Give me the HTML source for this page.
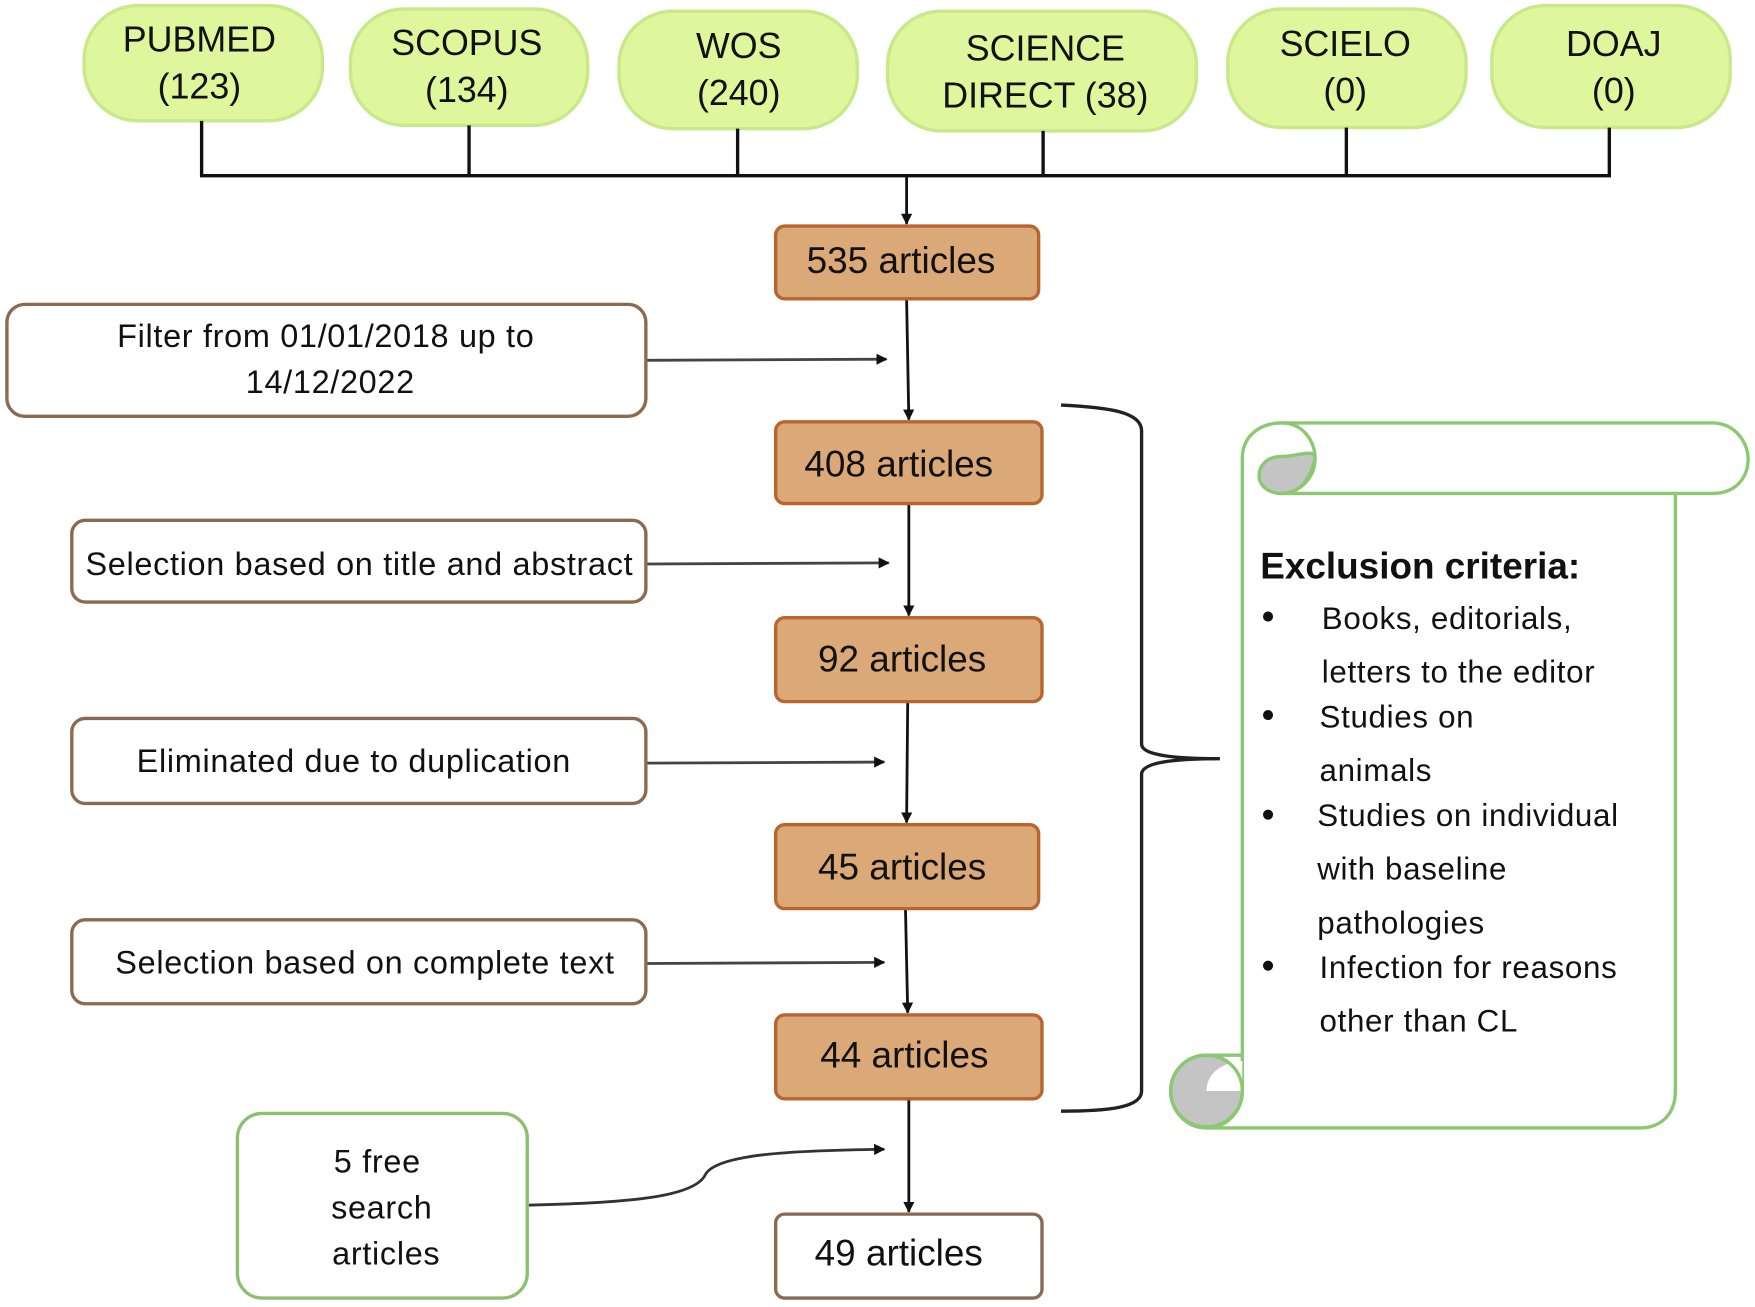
<!DOCTYPE html>
<html><head><meta charset="utf-8"><style>html,body{margin:0;padding:0;background:#fff}svg{display:block}</style></head><body>
<svg width="1755" height="1307" viewBox="0 0 1568 1168" xmlns="http://www.w3.org/2000/svg" font-family="Liberation Sans, sans-serif">
<defs><marker id="a" markerWidth="10" markerHeight="10" refX="9" refY="5" orient="auto" markerUnits="userSpaceOnUse"><path d="M0,0 L10,5 L0,10 z" fill="#111"/></marker></defs>
<g fill="#def79c" stroke="#c8e88a" stroke-width="3">
<rect x="75" y="5" width="213" height="103" rx="48"/>
<rect x="313" y="8" width="212" height="104" rx="48"/>
<rect x="553" y="10" width="213" height="105" rx="48"/>
<rect x="793" y="10" width="276" height="107" rx="48"/>
<rect x="1097" y="8" width="213" height="106" rx="48"/>
<rect x="1333" y="5" width="213" height="109" rx="48"/>
</g>
<g font-size="32" text-anchor="middle" fill="#111">
<text x="178" y="46">PUBMED</text><text x="178" y="88">(123)</text>
<text x="417" y="49">SCOPUS</text><text x="417" y="91">(134)</text>
<text x="660" y="52">WOS</text><text x="660" y="94">(240)</text>
<text x="934" y="54">SCIENCE</text><text x="934" y="96">DIRECT (38)</text>
<text x="1202" y="50">SCIELO</text><text x="1202" y="92">(0)</text>
<text x="1442" y="50">DOAJ</text><text x="1442" y="92">(0)</text>
</g>
<g stroke="#111" stroke-width="3" fill="none">
<path d="M180,108 V157 H1438 V114 M419,112 V157 M659,115 V157 M932,117 V157 M1203,114 V157"/>
</g>
<g stroke="#111" stroke-width="2.5" fill="none" marker-end="url(#a)">
<line x1="810" y1="157" x2="810" y2="200"/>
<line x1="810" y1="267" x2="812" y2="375"/>
<line x1="812" y1="450" x2="812" y2="550"/>
<line x1="811" y1="627" x2="810" y2="735"/>
<line x1="809" y1="812" x2="811" y2="905"/>
<line x1="812" y1="982" x2="812" y2="1083"/>
<line x1="577" y1="322" x2="792" y2="321" stroke="#444"/>
<line x1="577" y1="504" x2="794" y2="503" stroke="#444"/>
<line x1="577" y1="682" x2="790" y2="681" stroke="#444"/>
<line x1="577" y1="861" x2="790" y2="860" stroke="#444"/>
<path d="M471,1077 C560,1075 620,1070 630,1050 C640,1030 720,1028 790,1027" stroke="#333"/>
</g>
<g fill="#dba878" stroke="#b8652e" stroke-width="3">
<rect x="693" y="202" width="235" height="65" rx="8"/>
<rect x="693" y="377" width="238" height="73" rx="8"/>
<rect x="693" y="552" width="238" height="75" rx="8"/>
<rect x="693" y="737" width="235" height="75" rx="8"/>
<rect x="693" y="907" width="238" height="75" rx="8"/>
</g>
<rect x="693" y="1085" width="238" height="75" rx="8" fill="#fff" stroke="#8b6a50" stroke-width="3"/>
<g font-size="33" text-anchor="middle" fill="#111">
<text x="805" y="244">535 articles</text>
<text x="803" y="426">408 articles</text>
<text x="806" y="600">92 articles</text>
<text x="806" y="786">45 articles</text>
<text x="808" y="954">44 articles</text>
<text x="803" y="1131">49 articles</text>
</g>
<g fill="#fff" stroke="#8b6a50" stroke-width="3">
<rect x="6" y="272" width="571" height="100" rx="16"/>
<rect x="64" y="465" width="513" height="73" rx="12"/>
<rect x="64" y="642" width="513" height="76" rx="12"/>
<rect x="64" y="822" width="513" height="75" rx="12"/>
</g>
<rect x="212" y="995" width="259" height="165" rx="22" fill="#fff" stroke="#8cc070" stroke-width="3"/>
<g font-size="29" letter-spacing="0.6" text-anchor="middle" fill="#111">
<text x="291" y="310">Filter from 01/01/2018 up to</text>
<text x="295" y="351">14/12/2022</text>
<text x="321" y="514">Selection based on title and abstract</text>
<text x="316" y="690">Eliminated due to duplication</text>
<text x="326" y="870">Selection based on complete text</text>
<text x="337" y="1048">5 free</text>
<text x="341" y="1089">search</text>
<text x="345" y="1130">articles</text>
</g>
<path d="M948,362 C990,364 1020,368 1020,385 V665 C1020,675 1050,678 1090,678 C1050,678 1020,681 1020,692 V975 C1020,990 990,993 948,993" fill="none" stroke="#222" stroke-width="3"/>
<g stroke="#8cc870" stroke-width="3">
<path d="M1110,975 V410 C1110,390 1125,378 1145,378 H1530 C1550,378 1562,395 1562,410 C1562,428 1550,441 1530,441 H1497 V975 C1497,995 1485,1008 1465,1008 H1078" fill="#fff"/>
<path d="M1145,378 C1165,378 1175,395 1175,410 C1175,428 1160,441 1145,441 H1497" fill="none"/>
<path d="M1175,410 C1175,400 1160,408 1145,408 C1130,408 1125,418 1125,425 C1125,435 1135,441 1145,441 C1160,441 1170,430 1175,410 z" fill="#c4c4c4"/>
<circle cx="1078" cy="975" r="32" fill="#c4c4c4"/>
<path d="M1078,975 C1078,960 1090,950 1110,948 V975 z" fill="#fff" stroke="none"/>
<path d="M1078,943 C1096,943 1110,957 1110,975 C1110,993 1096,1008 1078,1008 C1060,1008 1046,993 1046,975 C1046,957 1060,943 1078,943 H1110" fill="none"/>
</g>
<g fill="#111">
<text x="1126" y="517" font-size="33" font-weight="bold">Exclusion criteria:</text>
<g font-size="28" letter-spacing="0.6">
<circle cx="1133" cy="551" r="4.5"/><text x="1181" y="562">Books, editorials,</text>
<text x="1181" y="610">letters to the editor</text>
<circle cx="1133" cy="639" r="4.5"/><text x="1179" y="650">Studies on</text>
<text x="1179" y="698">animals</text>
<circle cx="1133" cy="728" r="4.5"/><text x="1177" y="738">Studies on individual</text>
<text x="1177" y="786">with baseline</text>
<text x="1177" y="834">pathologies</text>
<circle cx="1133" cy="863" r="4.5"/><text x="1179" y="874">Infection for reasons</text>
<text x="1179" y="922">other than CL</text>
</g></g>
</svg>
</body></html>
